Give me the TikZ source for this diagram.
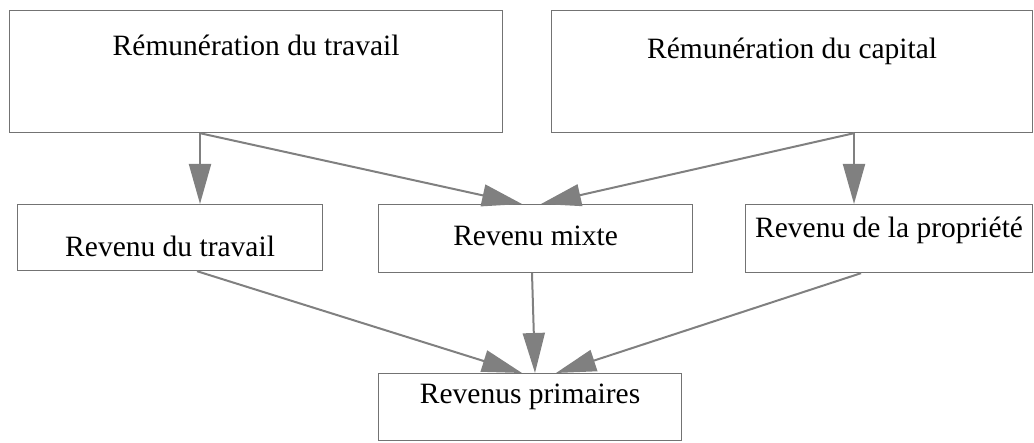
\documentclass[tikz,border=0pt]{standalone}
\usepackage{fontspec}
\setmainfont{Liberation Serif}
\usetikzlibrary{arrows.meta, positioning}

\begin{document}
\begin{tikzpicture}[
			x=1pt, y=1pt,
			every node/.style={
				draw=gray!90!black,
				line width=1.2pt,
				rectangle,
				inner sep=0pt,
				anchor=north west,
				font=\fontsize{29.5}{34}\selectfont
			},
			arrow/.style={-{Triangle[length=40pt, width=22pt]}, line width=2pt, color=gray}
			]
			\useasboundingbox (0,0) rectangle (1034,-443);
			
			% -------- Rémunérations --------
			\node[minimum width=493pt, text height=45pt, text depth=77pt] (rt) at (9,-10) {Rémunération du travail};
			\node[minimum width=481pt, text height=48pt, text depth=74pt] (rc) at (551,-10) {Rémunération du capital};
			
			% -------- Revenus --------
			\node[minimum width=305pt, text height=52pt, text depth=14pt] (rdt) at (17,-204) {Revenu du travail};
			\node[minimum width=314pt, text height=41pt, text depth=27pt] (rm) at (378,-204) {Revenu mixte};
			\node[minimum width=287pt, text height=33pt, text depth=35pt] (rp) at (745,-204) {Revenu de la propriété};
			
			\node[minimum width=303pt, text height=30pt, text depth=37pt] (rprim) at (378,-373) {Revenus primaires};
			
			% -------- Flèches --------
			\draw[arrow] ([xshift=191pt]rt.south west) -- ([xshift=183pt]rdt.north west);
			\draw[arrow] ([xshift=191pt]rt.south west) -- ([xshift=144pt]rm.north west);
			\draw[arrow] ([xshift=303pt]rc.south west) -- ([xshift=109pt]rp.north west);
			\draw[arrow] ([xshift=303pt]rc.south west) -- ([xshift=163pt]rm.north west);
			
			\draw[arrow] ([xshift=180pt]rdt.south west) -- ([xshift=144pt]rprim.north west);
			\draw[arrow] ([xshift=154pt]rm.south west) -- ([xshift=157pt]rprim.north west);
			\draw[arrow] ([xshift=116pt]rp.south west) -- ([xshift=178pt]rprim.north west);
			
	\end{tikzpicture}
\end{document}
